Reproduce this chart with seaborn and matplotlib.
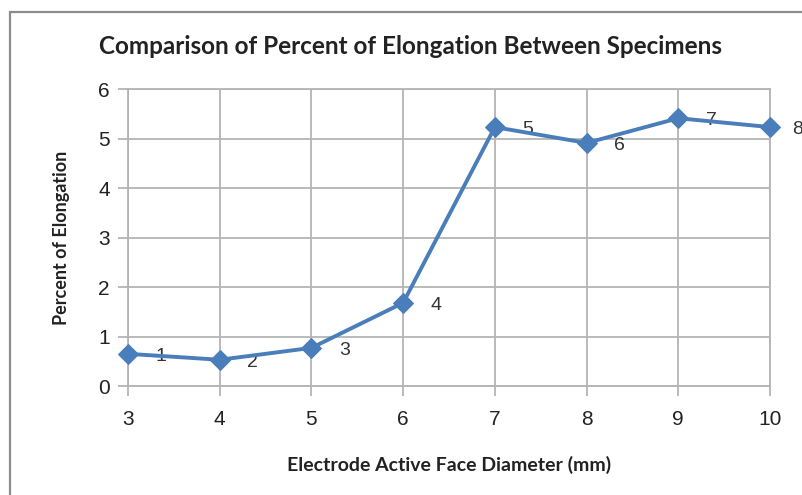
import matplotlib
matplotlib.use("Agg")
import matplotlib.pyplot as plt
import seaborn as sns
import pandas as pd
from matplotlib.patches import Rectangle

# Electrode active face diameter (mm) and measured elongation per specimen
diameters = [3, 4, 5, 6, 7, 8, 9, 10]
elongation = [0.65, 0.53, 0.77, 1.68, 5.23, 4.91, 5.41, 5.23]
specimens = ["1", "2", "3", "4", "5", "6", "7", "8"]
y_ticks = [0, 1, 2, 3, 4, 5, 6]

df = pd.DataFrame({"diameter": diameters, "elongation": elongation, "specimen": specimens})

sns.set_theme(style="white")
plt.rcParams["font.family"] = ["Liberation Sans", "DejaVu Sans"]

fig = plt.figure(figsize=(8.03, 4.95), dpi=100)
ax = fig.add_axes([0.1594, 0.2202, 0.7995, 0.6])

# outer chart frame
fig.patches.append(Rectangle((10 / 803, -0.05), 1.0, 1 - 12 / 495 + 0.05,
                             transform=fig.transFigure, fill=False,
                             edgecolor="#8c8c8c", linewidth=1.6, zorder=0))

blue = "#4a7ebb"
sns.lineplot(data=df, x="diameter", y="elongation", ax=ax, color=blue,
             linewidth=2.8, marker="D", markersize=10, markeredgecolor=blue,
             clip_on=False, zorder=5)

# specimen numbers to the right of each point; the last one is pulled in
# so it stays inside the figure
for i, r in df.iterrows():
    dx = 20 if i < len(df) - 1 else 16
    ax.annotate(r["specimen"], (r["diameter"], r["elongation"]),
                xytext=(dx, -2), textcoords="offset points",
                fontsize=14, color="#333333", va="center", ha="left",
                annotation_clip=False)

ax.set_xlim(3, 10)
ax.set_ylim(0, 6)
ax.set_xticks(diameters)
ax.set_yticks(y_ticks)
ax.grid(True, color="#b4b4b4", linewidth=1.3)
ax.tick_params(axis="both", which="both", length=7, width=1.3, color="#b4b4b4",
               labelsize=15, labelcolor="#222222", direction="out", pad=6,
               left=True, bottom=True)
ax.tick_params(axis="x", pad=10)
for s in ax.spines.values():
    s.set_color("#b4b4b4")
    s.set_linewidth(1.3)

ax.set_xlabel("Electrode Active Face Diameter (mm)", fontsize=14, fontweight="bold",
              family=["Lato", "DejaVu Sans"], color="#222222", labelpad=20)
ax.set_ylabel("Percent of Elongation", fontsize=13, fontweight="bold",
              family=["Lato", "DejaVu Sans"], color="#222222", labelpad=20)
fig.text(0.511, 1 - 47 / 495, "Comparison of Percent of Elongation Between Specimens",
         ha="center", va="center", fontsize=17.5, fontweight="bold",
         family=["Lato", "DejaVu Sans"], color="#222222")

fig.savefig("out.png", dpi=100)
